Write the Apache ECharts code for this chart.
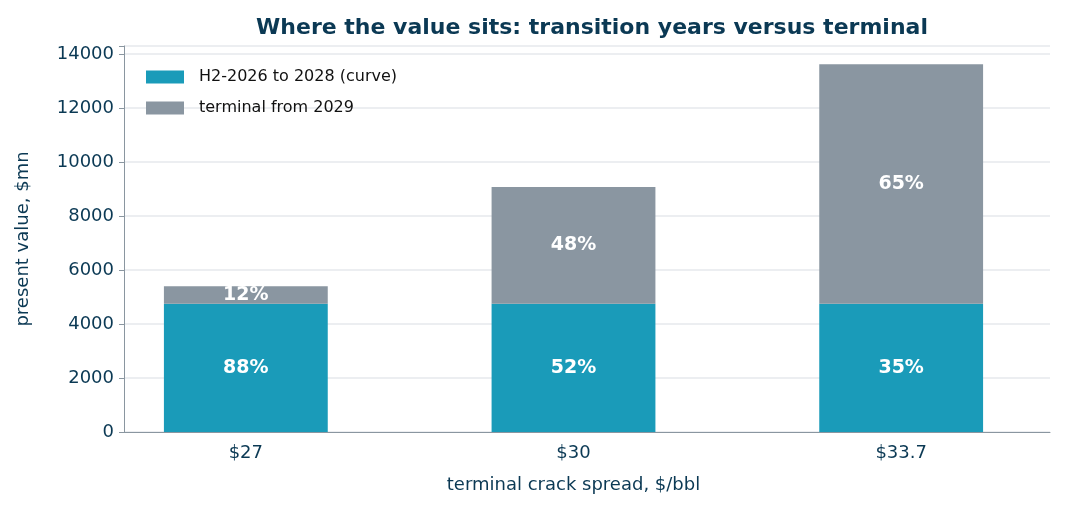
<!DOCTYPE html>
<html><head><meta charset="utf-8">
<script src="https://cdn.jsdelivr.net/npm/echarts@6/dist/echarts.min.js"></script>
<style>html,body{margin:0;padding:0;background:#fff}#c{width:1065px;height:510px}</style>
</head><body><div id="c"></div>
<script>
const categories = ['$27', '$30', '$33.7'];
const transition = [4750, 4750, 4750];
const terminal = [650, 4330, 8870];
const yTicks = [0, 2000, 4000, 6000, 8000, 10000, 12000, 14000];
const totals = transition.map((v, i) => v + terminal[i]);
const pct = (arr) => (p) => Math.round(arr[p.dataIndex] / totals[p.dataIndex] * 100) + '%';
const txt = '#0b3954';
const axisCol = '#8a96a0';
const font = 'DejaVu Sans';
const chart = echarts.init(document.getElementById('c'));
chart.setOption({
  animation: false,
  title: { text: 'Where the value sits: transition years versus terminal', left: 587, top: 12, textAlign: 'center',
    textStyle: { color: txt, fontSize: 22, fontWeight: 'bold', fontFamily: font } },
  grid: [
    { left: 82, right: -27, top: 46, bottom: 78 },
    { left: 124, right: 15, top: 46, bottom: 78 }
  ],
  legend: { left: 141, top: 64, orient: 'vertical', itemWidth: 38, itemHeight: 13, itemGap: 15, icon: 'rect',
    textStyle: { fontSize: 16, color: '#111', fontFamily: font, padding: [0, 0, 0, 10] },
    data: ['H2-2026 to 2028 (curve)', 'terminal from 2029'] },
  xAxis: [
    { gridIndex: 0, type: 'category', data: categories, name: 'terminal crack spread, $/bbl', nameLocation: 'middle', nameGap: 44,
      nameTextStyle: { color: txt, fontSize: 18, fontFamily: font },
      axisLine: { show: false }, axisTick: { alignWithLabel: true, length: 5, lineStyle: { color: axisCol } },
      axisLabel: { color: txt, fontSize: 18, margin: 12, fontFamily: font } },
    { gridIndex: 1, type: 'value', min: 0, max: 1, axisLine: { show: true, onZero: false, lineStyle: { color: axisCol } },
      axisTick: { show: false }, axisLabel: { show: false }, splitLine: { show: false } }
  ],
  yAxis: [
    { gridIndex: 0, type: 'value', min: 0, max: 14300, show: false, splitLine: { show: false } },
    { gridIndex: 1, type: 'value', min: 0, max: 14300, interval: 2000, name: 'present value, $mn', nameLocation: 'middle', nameGap: 92,
      nameTextStyle: { color: txt, fontSize: 18, fontFamily: font },
      axisLine: { show: true, lineStyle: { color: axisCol } }, axisTick: { show: true, length: 5, lineStyle: { color: axisCol } },
      splitLine: { lineStyle: { color: '#e6e9ec', width: 1.5 } },
      axisLabel: { color: txt, fontSize: 18, margin: 10, fontFamily: font, formatter: v => yTicks.includes(v) ? String(v) : '' } }
  ],
  series: [
    { name: 'H2-2026 to 2028 (curve)', type: 'bar', stack: 's', xAxisIndex: 0, yAxisIndex: 0, data: transition, barWidth: '50%', itemStyle: { color: '#1a9bb9' },
      label: { show: true, position: 'inside', formatter: pct(transition), color: '#fff', fontSize: 19, fontWeight: 'bold', fontFamily: font } },
    { name: 'terminal from 2029', type: 'bar', stack: 's', xAxisIndex: 0, yAxisIndex: 0, data: terminal, itemStyle: { color: '#8a96a1' },
      label: { show: true, position: 'inside', formatter: pct(terminal), color: '#fff', fontSize: 19, fontWeight: 'bold', fontFamily: font } }
  ]
});
</script></body></html>
